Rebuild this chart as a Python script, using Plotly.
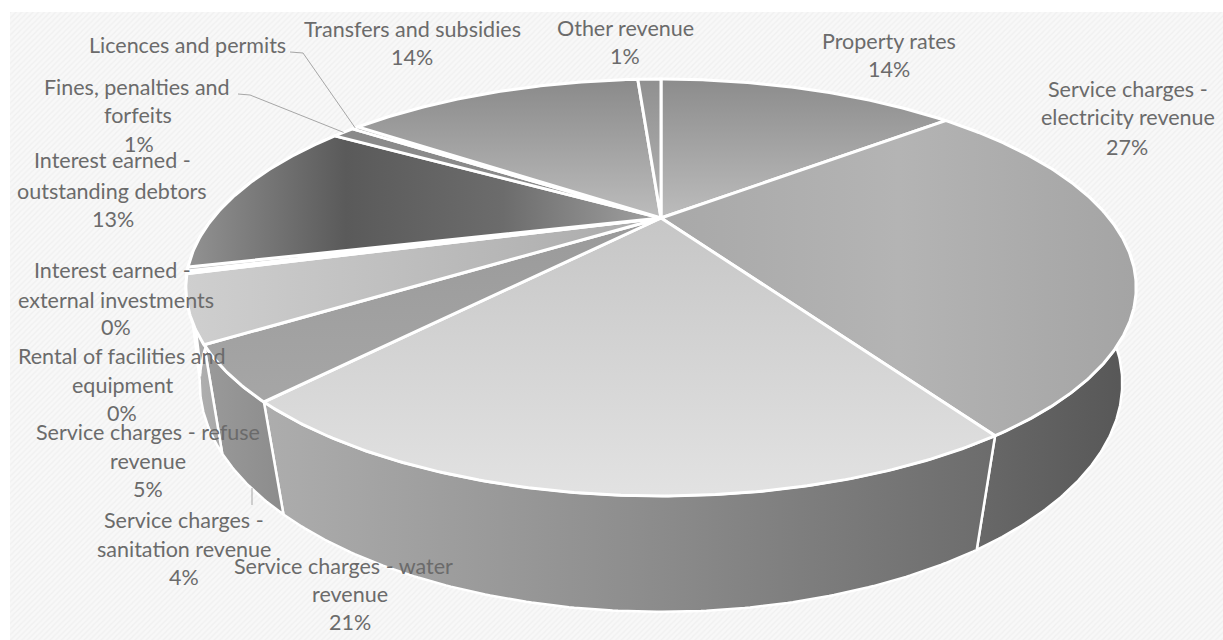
import math
import numpy as np
import plotly.graph_objects as go

# Revenue shares, clockwise from twelve o'clock (percent)
categories = [
    "Property rates", "Service charges - electricity revenue",
    "Service charges - water revenue", "Service charges - sanitation revenue",
    "Service charges - refuse revenue", "Rental of facilities and equipment",
    "Interest earned - external investments", "Interest earned - outstanding debtors",
    "Fines, penalties and forfeits", "Licences and permits",
    "Transfers and subsidies", "Other revenue",
]
shares = [14.0, 27.0, 20.6, 4.0, 5.0, 0.2, 0.3, 12.6, 1.0, 0.3, 13.9, 1.1]

# Gradient stops for the top face and outer wall of each slice.
# Vertical gradients run from the lower edge upward, horizontal ones left to right.
top_dirs = ["vertical", "horizontal", "vertical", "vertical", "horizontal", "vertical",
            "vertical", "horizontal", "vertical", "vertical", "vertical", "vertical"]
top_stops = [
    ("#bcbcbc", "#8c8c8c"), ("#a8a8a8", "#b4b4b4", "#a4a4a4"), ("#e2e2e2", "#c6c6c6"),
    ("#a6a6a6", "#9a9a9a"), ("#cfcfcf", "#aaaaaa"), ("#c0c0c0", "#c0c0c0"),
    ("#c0c0c0", "#c0c0c0"), ("#929292", "#5a5a5a", "#6c6c6c", "#a2a2a2"),
    ("#8a8a8a", "#8a8a8a"), ("#9a9a9a", "#9a9a9a"), ("#bcbcbc", "#8a8a8a"),
    ("#b4b4b4", "#909090"),
]
wall_stops = [
    ("#777777", "#777777"), ("#6c6c6c", "#565656"), ("#adadad", "#8e8e8e", "#6c6c6c"),
    ("#9a9a9a", "#8c8c8c"), ("#b2b2b2", "#a8a8a8"), ("#a8a8a8", "#a8a8a8"),
    ("#a8a8a8", "#a8a8a8"), ("#a8a8a8", "#a8a8a8"), ("#a8a8a8", "#a8a8a8"),
    ("#777777", "#777777"), ("#777777", "#777777"), ("#777777", "#777777"),
]

# Perspective of the disc on the page: upper rim and the rim at the base
CX, CY = 661.0, 218.0
HALF_W, HALF_H = 448.0, 185.3
TILT = 1.0 / 3.0
BASE_CY, BASE_W, BASE_H = 314.6, 440.0, 208.0
BASE_TILT = 0.3


def project(angle, radius=1.0, lower=False):
    t = np.radians(angle)
    u, v = radius * np.sin(t), radius * np.cos(t)
    if lower:
        w = 1 + BASE_TILT * v
        return CX + BASE_W * u / w, BASE_CY - BASE_H * v / w
    w = 1 + TILT * v
    return CX + HALF_W * u / w, CY - HALF_H * v / w


def sweep(a0, a1):
    return np.linspace(a0, a1, max(4, int(abs(a1 - a0) * 2)))


def scale(stops):
    return [[k / (len(stops) - 1), c] for k, c in enumerate(stops)]


SEAM = "#ffffff"
fig = go.Figure()

# Hatched plot background inside the white page border
fig.add_trace(go.Scatter(
    x=[10, 1223, 1223, 10, 10], y=[12, 12, 640, 640, 12], mode="lines", fill="toself",
    line=dict(width=0, color="#f6f6f6"),
    fillpattern=dict(shape="/", size=4, solidity=0.35, fgcolor="#e8e8e8", bgcolor="#f8f8f8"),
    hoverinfo="skip", showlegend=False,
))

cum = np.concatenate([[0.0], np.cumsum(shares)])
edges = cum / cum[-1] * 360.0

# Outer walls first, so the top faces cover the far side of the rim
for i, name in enumerate(categories):
    a0, a1 = edges[i], edges[i + 1]
    # rear walls sit entirely under the top face
    if a1 <= 90 or a0 >= 300:
        continue
    angs = sweep(a0, a1)
    xt, yt = project(angs)
    xb, yb = project(angs[::-1], lower=True)
    xs = np.concatenate([xt, xb, xt[:1]])
    ys = np.concatenate([yt, yb, yt[:1]])
    fig.add_trace(go.Scatter(
        x=xs, y=ys, mode="lines", fill="toself",
        line=dict(color=SEAM, width=2.5),
        fillgradient=dict(type="horizontal", colorscale=scale(wall_stops[i])),
        name=name, hoverinfo="skip", showlegend=False,
    ))

# Top faces
for i, name in enumerate(categories):
    angs = sweep(edges[i], edges[i + 1])
    xr, yr = project(angs)
    xs = np.concatenate([[CX], xr, [CX]])
    ys = np.concatenate([[CY], yr, [CY]])
    fig.add_trace(go.Scatter(
        x=xs, y=ys, mode="lines", fill="toself",
        line=dict(color=SEAM, width=3),
        fillgradient=dict(type=top_dirs[i], colorscale=scale(top_stops[i])),
        name=name, hoverinfo="skip", showlegend=False,
    ))

# Label lines: centre x, centre y for each printed row; percent comes from the shares
pct = [f"{round(s)}%" for s in shares]
label_rows = [
    [("Property rates", 889, 41), (pct[0], 889, 69)],
    [("Service charges -", 1128, 89), ("electricity revenue", 1128, 117), (pct[1], 1127, 147)],
    [("Service charges - water", 343, 566), ("revenue", 350, 594), (pct[2], 350, 622)],
    [("Service charges -", 184, 520), ("sanitation revenue", 184, 549), (pct[3], 184, 577)],
    [("Service charges - refuse", 148, 432), ("revenue", 148, 461), (pct[4], 148, 489)],
    [("Rental of facilities and", 122, 356), ("equipment", 122, 385), (pct[5], 122, 413)],
    [("Interest earned -", 112, 270), ("external investments", 116, 300), (pct[6], 116, 327)],
    [("Interest earned -", 112, 160), ("outstanding debtors", 112, 191), (pct[7], 113, 219)],
    [("Fines, penalties and", 137, 87), ("forfeits", 138, 115), (pct[8], 139, 144)],
    [("Licences and permits", 187, 45)],
    [("Transfers and subsidies", 412, 29), (pct[10], 412, 57)],
    [("Other revenue", 625, 28), (pct[11], 625, 56)],
]
annotations = [
    dict(x=x, y=y, text=t, showarrow=False, xref="x", yref="y", xanchor="center", yanchor="middle",
         font=dict(family="Lato", size=21.5, color="#6b6b6b"))
    for rows in label_rows for t, x, y in rows
]

# Leader lines running to the narrow slices on the rim
def leader(path):
    return dict(type="path", path=path, xref="x", yref="y", line=dict(color="#a6a6a6", width=1), layer="above")

mid_fines = math.fsum(edges[8:10]) / 2
mid_lic = math.fsum(edges[9:11]) / 2
fx, fy = project(mid_fines)
lx, ly = project(mid_lic)
shapes = [
    leader(f"M 238 94 L 250 95 L {fx:.1f} {fy:.1f}"),
    leader(f"M 290 52 L 303 53 L {lx:.1f} {ly:.1f}"),
    leader("M 252 488 L 252 505"),
]

fig.update_layout(
    width=1223, height=640, margin=dict(l=0, r=0, t=0, b=0),
    paper_bgcolor="#ffffff", plot_bgcolor="#ffffff",
    xaxis=dict(range=[0, 1223], visible=False, fixedrange=True),
    yaxis=dict(range=[640, 0], visible=False, fixedrange=True),
    annotations=annotations, shapes=shapes, showlegend=False,
)
fig.write_html("out.html")
